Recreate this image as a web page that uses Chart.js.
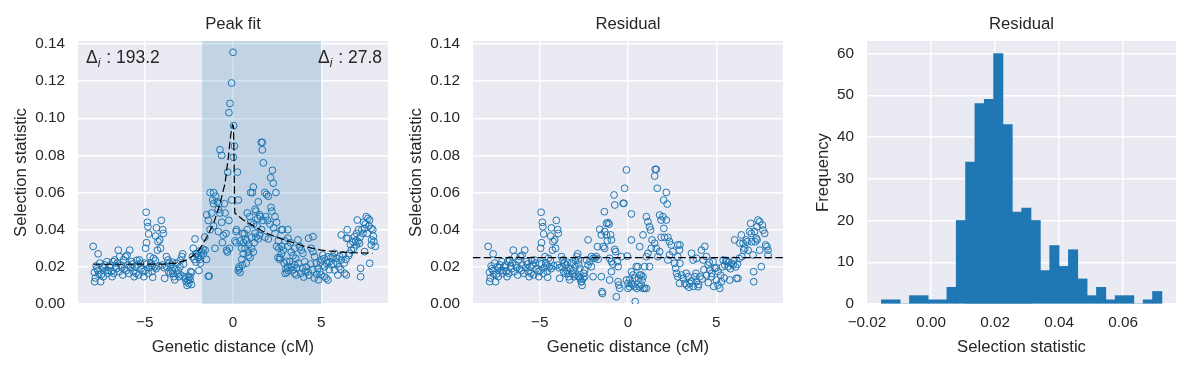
<!DOCTYPE html>
<html>
<head>
<meta charset="utf-8">
<script src="https://cdn.jsdelivr.net/npm/chart.js@4.4.1/dist/chart.umd.min.js"></script>
<style>
  html, body { margin: 0; padding: 0; background: #fff; }
  #wrap { position: relative; width: 1191px; height: 368px; }
  canvas { position: absolute; left: 0; top: 0; }
</style>
</head>
<body>
<div id="wrap">
  <canvas id="peak" width="1191" height="368"></canvas>
  <canvas id="resid" width="1191" height="368"></canvas>
  <canvas id="hist" width="1191" height="368"></canvas>
</div>
<script>
// ---- data ----
// points left of the peak look the same in both scatter panels
const flankPoints = [
  [-7.92,0.031],[-7.85,0.017],[-7.84,0.012],[-7.8,0.014],[-7.75,0.0205],[-7.7,0.019],[-7.65,0.018],[-7.64,0.027],
  [-7.6,0.016],[-7.55,0.022],[-7.5,0.012],[-7.45,0.016],[-7.4,0.020],[-7.35,0.0147],[-7.3,0.0195],[-7.26,0.021],
  [-7.2,0.018],[-7.15,0.0228],[-7.1,0.0165],[-7.05,0.018],[-7.0,0.020],[-6.95,0.021],[-6.9,0.0174],[-6.85,0.0147],
  [-6.8,0.0228],[-6.75,0.0165],[-6.7,0.0237],[-6.65,0.0205],[-6.6,0.019],[-6.55,0.022],[-6.5,0.029],[-6.45,0.0174],
  [-6.42,0.0255],[-6.35,0.021],[-6.3,0.0195],[-6.25,0.0156],[-6.2,0.0237],[-6.15,0.019],[-6.1,0.0255],[-6.05,0.018],
  [-6.0,0.0263],[-5.95,0.021],[-5.9,0.0165],[-5.85,0.029],[-5.8,0.0195],[-5.75,0.0228],[-5.7,0.0215],[-5.65,0.0174],
  [-5.6,0.0147],[-5.55,0.020],[-5.5,0.0165],[-5.45,0.0235],[-5.4,0.021],[-5.35,0.0156],[-5.3,0.0237],[-5.25,0.022],
  [-5.2,0.019],[-5.1,0.0174],[-5.05,0.0147],[-5.0,0.022],[-4.98,0.018],[-4.95,0.030],[-4.92,0.0494],[-4.9,0.033],
  [-4.88,0.0215],[-4.85,0.044],[-4.82,0.0416],[-4.8,0.0165],[-4.78,0.0377],[-4.75,0.0195],[-4.7,0.0255],[-4.65,0.022],
  [-4.6,0.0205],[-4.58,0.0175],[-4.55,0.0144],[-4.5,0.0246],[-4.45,0.020],[-4.4,0.0235],[-4.38,0.0366],[-4.36,0.019],
  [-4.34,0.041],[-4.28,0.029],[-4.25,0.0336],[-4.2,0.0205],[-4.15,0.0345],[-4.1,0.030],[-4.06,0.045],[-4.0,0.021],
  [-3.98,0.040],[-3.95,0.038],[-3.9,0.0195],[-3.87,0.0138],[-3.77,0.0255],[-3.75,0.020],[-3.68,0.0237],[-3.65,0.0175],
  [-3.6,0.022],[-3.55,0.0165],[-3.5,0.021],[-3.45,0.018],[-3.42,0.0225],[-3.4,0.0165],[-3.35,0.0147],[-3.3,0.013],
  [-3.25,0.019],[-3.2,0.022],[-3.15,0.0165],[-3.1,0.018],[-3.05,0.0147],[-3.0,0.020],[-2.98,0.0235],[-2.95,0.0156],
  [-2.9,0.0255],[-2.85,0.027],[-2.8,0.0215],[-2.75,0.0147],[-2.7,0.0138],[-2.65,0.012],[-2.6,0.010]
];

const peakCore = [
  [-2.55,0.0128],[-2.53,0.015],[-2.5,0.011],[-2.45,0.0146],[-2.43,0.013],[-2.4,0.0175],[-2.35,0.0105],[-2.34,0.017],
  [-2.3,0.0255],[-2.25,0.030],[-2.2,0.024],[-2.15,0.035],[-2.12,0.027],[-2.1,0.0225],[-2.06,0.027],[-2.0,0.026],
  [-1.96,0.025],[-1.93,0.018],[-1.9,0.0285],[-1.87,0.024],[-1.84,0.022],[-1.8,0.026],[-1.77,0.028],[-1.7,0.0295],
  [-1.68,0.027],[-1.6,0.036],[-1.58,0.029],[-1.5,0.024],[-1.49,0.048],[-1.4,0.045],[-1.4,0.015],[-1.35,0.015],
  [-1.3,0.060],[-1.3,0.040],[-1.21,0.049],[-1.15,0.056],[-1.1,0.060],[-1.1,0.054],[-1.1,0.042],[-1.02,0.030],
  [-0.98,0.058],[-0.89,0.055],[-0.83,0.051],[-0.83,0.039],[-0.8,0.054],[-0.74,0.083],[-0.74,0.049],[-0.64,0.080],
  [-0.64,0.044],[-0.6,0.033],[-0.55,0.037],[-0.49,0.054],[-0.45,0.049],[-0.4,0.038],[-0.36,0.029],[-0.32,0.028],
  [-0.3,0.071],[-0.23,0.103],[-0.23,0.045],[-0.2,0.030],[-0.17,0.108],[-0.08,0.119],[-0.08,0.056],[0.0,0.1355],
  [0.02,0.079],[0.04,0.096],[0.08,0.085],[0.11,0.034],[0.17,0.039],[0.17,0.033],[0.2,0.040],[0.25,0.071],
  [0.3,0.056],[0.3,0.018],[0.34,0.020],[0.36,0.019],[0.4,0.034],[0.4,0.017],[0.49,0.030],[0.5,0.024],
  [0.53,0.021],[0.55,0.038],[0.58,0.027],[0.6,0.033],[0.65,0.038],[0.68,0.030],[0.7,0.035],[0.75,0.022],
  [0.77,0.034],[0.8,0.040],[0.81,0.049],[0.87,0.028],[0.87,0.026],[0.9,0.032],[0.95,0.047],[0.96,0.025],
  [1.0,0.060],[1.0,0.044],[1.05,0.030],[1.06,0.036],[1.1,0.060],[1.15,0.063],[1.15,0.028],[1.17,0.043],
  [1.2,0.033],[1.25,0.051],[1.25,0.038],[1.3,0.050],[1.3,0.036],[1.36,0.042],[1.4,0.046],[1.43,0.055],
  [1.43,0.035],[1.5,0.048],[1.5,0.037],[1.55,0.047],[1.6,0.087],[1.62,0.040],[1.66,0.087],[1.66,0.083],
  [1.7,0.045],[1.72,0.076],[1.8,0.060],[1.81,0.036],[1.85,0.047],[1.9,0.059],[1.96,0.045],[2.0,0.058],
  [2.0,0.035],[2.09,0.043],[2.13,0.068],[2.15,0.052],[2.2,0.050],[2.23,0.072],[2.28,0.065],[2.3,0.041],
  [2.38,0.047],[2.38,0.038],[2.43,0.060],[2.47,0.044],[2.47,0.031],[2.55,0.025],[2.57,0.034],[2.6,0.030],
  [2.65,0.024],[2.66,0.025],[2.75,0.031],[2.75,0.027],[2.75,0.040],[2.8,0.040],[2.85,0.029],[2.9,0.022],
  [2.94,0.034],[2.95,0.0165],[3.0,0.019],[3.04,0.023],[3.05,0.017],[3.09,0.020],[3.11,0.040],[3.11,0.0354],
  [3.11,0.031],[3.13,0.018],[3.21,0.0228],[3.25,0.033],[3.3,0.020],[3.3,0.028],[3.4,0.0183],[3.4,0.026],
  [3.49,0.0165],[3.49,0.021],[3.5,0.030],[3.55,0.0245],[3.58,0.0156],[3.6,0.0195],[3.68,0.0345],[3.7,0.022],
  [3.77,0.031],[3.85,0.0165],[3.87,0.029],[3.95,0.019],[3.96,0.0273],[4.0,0.0145],[4.06,0.0228],[4.1,0.0175],
  [4.15,0.020],[4.25,0.0174],[4.28,0.0354],[4.3,0.0155],[4.4,0.0215],[4.43,0.030],[4.5,0.0185],[4.53,0.0363],
  [4.53,0.0282],[4.6,0.014],[4.62,0.0255],[4.72,0.0219],[4.75,0.016],[4.81,0.0192],[4.85,0.013],[4.91,0.0174],
  [4.95,0.0225],[5.0,0.0237],[5.0,0.0156],[5.09,0.021],[5.09,0.0264],[5.15,0.0245],[5.19,0.0147],[5.19,0.020],
  [5.28,0.0138],[5.3,0.022],[5.38,0.0129],[5.38,0.0255],[5.45,0.0185],[5.47,0.0228],[5.55,0.025],[5.57,0.021],
  [5.66,0.0255],[5.7,0.0215],[5.75,0.0273],[5.75,0.0183],[5.85,0.0246],[5.9,0.022],[5.94,0.0156],[6.0,0.020],
  [6.04,0.0255],[6.1,0.0185],[6.13,0.0237],[6.13,0.0372],[6.23,0.0264],[6.3,0.022],[6.32,0.0165],[6.4,0.024],
  [6.42,0.0156],[6.42,0.0354],[6.47,0.040],[6.51,0.0354],[6.55,0.026],[6.6,0.0273],[6.65,0.032],[6.7,0.029],
  [6.79,0.0336],[6.85,0.030],[6.89,0.0363],[6.95,0.034],[6.98,0.0318],[7.0,0.038],[7.04,0.0452],[7.08,0.0336],
  [7.11,0.040],[7.17,0.0327],[7.2,0.036],[7.23,0.0192],[7.23,0.0147],[7.3,0.040],[7.36,0.038],[7.4,0.044],
  [7.45,0.0407],[7.45,0.0282],[7.5,0.043],[7.55,0.047],[7.6,0.038],[7.64,0.0461],[7.7,0.042],[7.74,0.0452],
  [7.74,0.0219],[7.83,0.0407],[7.83,0.0318],[7.85,0.0345],[7.92,0.040],[7.95,0.0365],[7.98,0.0336],[8.06,0.031]
];

const residCore = [
  [-2.82,0.0237],[-2.73,0.0192],[-2.8,0.0147],[-2.63,0.012],[-2.54,0.0138],[-2.45,0.0147],[-2.5,0.0165],[-2.45,0.0183],
  [-2.35,0.0237],[-2.26,0.021],[-2.26,0.0345],[-2.16,0.0228],[-2.07,0.0201],[-2.07,0.0255],[-1.98,0.0246],[-1.98,0.0147],
  [-1.88,0.0246],[-1.79,0.0255],[-1.73,0.0309],[-1.69,0.0241],[-1.6,0.0402],[-1.51,0.0372],[-1.51,0.0147],[-1.47,0.0066],
  [-1.45,0.0057],[-1.41,0.0309],[-1.34,0.0497],[-1.32,0.030],[-1.32,0.039],[-1.22,0.0372],[-1.22,0.0434],[-1.17,0.0341],
  [-1.13,0.0438],[-1.07,0.043],[-1.04,0.0246],[-1.04,0.0129],[-0.98,0.0372],[-0.94,0.0345],[-0.94,0.0228],[-0.94,0.0174],
  [-0.85,0.0215],[-0.79,0.0587],[-0.75,0.0533],[-0.75,0.0294],[-0.7,0.0282],[-0.66,0.0039],[-0.6,0.0228],[-0.56,0.0201],
  [-0.56,0.012],[-0.52,0.0102],[-0.47,0.0084],[-0.38,0.0255],[-0.28,0.0542],[-0.23,0.0542],[-0.19,0.0623],[-0.09,0.0722],
  [-0.09,0.0129],[-0.04,0.0258],[0.0,0.0111],[0.0,0.0084],[0.1,0.0133],[0.1,0.0093],[0.19,0.0485],[0.19,0.0345],
  [0.19,0.0174],[0.2,0.0111],[0.28,0.0156],[0.28,0.0102],[0.38,0.0138],[0.38,0.0093],[0.41,0.0013],[0.47,0.0201],
  [0.5,0.0084],[0.56,0.0201],[0.6,0.0138],[0.66,0.0156],[0.66,0.0309],[0.66,0.0093],[0.75,0.0102],[0.75,0.0156],
  [0.8,0.0129],[0.85,0.0372],[0.85,0.0147],[0.85,0.0084],[0.94,0.0201],[0.94,0.0084],[1.04,0.0255],[1.04,0.047],
  [1.04,0.0084],[1.13,0.0273],[1.13,0.0443],[1.22,0.0416],[1.22,0.0201],[1.28,0.0398],[1.32,0.030],[1.36,0.0345],
  [1.51,0.0327],[1.51,0.0689],[1.54,0.0725],[1.6,0.0725],[1.6,0.030],[1.66,0.0623],[1.69,0.0255],[1.79,0.0282],
  [1.79,0.0479],[1.88,0.0452],[1.88,0.0359],[1.98,0.047],[2.02,0.056],[2.03,0.0407],[2.07,0.0359],[2.17,0.0601],
  [2.17,0.0452],[2.22,0.0538],[2.26,0.0359],[2.26,0.0237],[2.35,0.0336],[2.35,0.0264],[2.45,0.0318],[2.54,0.0282],
  [2.64,0.0219],[2.7,0.0192],[2.75,0.0165],[2.82,0.0318],[2.82,0.0255],[2.82,0.0147],[2.92,0.0291],[2.92,0.0111],
  [2.94,0.0318],[2.94,0.0219],[3.03,0.0156],[3.13,0.0138],[3.22,0.0111],[3.3,0.0165],[3.31,0.0102],[3.41,0.0147],
  [3.45,0.009],[3.5,0.0111],[3.6,0.0273],[3.6,0.0125],[3.69,0.0237],[3.7,0.0095],[3.79,0.0147],[3.85,0.0165],
  [3.88,0.012],[3.88,0.0246],[3.97,0.0093],[4.0,0.0105],[4.07,0.0147],[4.16,0.029],[4.2,0.0135],[4.26,0.0237],
  [4.3,0.0185],[4.35,0.031],[4.44,0.0255],[4.45,0.0155],[4.54,0.021],[4.55,0.0115],[4.6,0.0225],[4.63,0.0183],
  [4.73,0.0147],[4.75,0.0165],[4.82,0.0228],[4.85,0.0095],[4.92,0.0192],[5.0,0.0195],[5.01,0.0129],[5.1,0.0102],
  [5.1,0.0175],[5.2,0.0084],[5.25,0.0155],[5.29,0.012],[5.35,0.020],[5.39,0.0237],[5.45,0.014],[5.48,0.021],
  [5.55,0.0235],[5.58,0.0228],[5.67,0.0201],[5.7,0.0225],[5.76,0.0129],[5.8,0.019],[5.86,0.0219],[5.95,0.021],
  [6.0,0.0235],[6.04,0.0345],[6.1,0.020],[6.14,0.0138],[6.2,0.0215],[6.23,0.0138],[6.3,0.0245],[6.33,0.0327],
  [6.42,0.0372],[6.45,0.0255],[6.52,0.0327],[6.55,0.029],[6.61,0.030],[6.7,0.0345],[6.75,0.0335],[6.8,0.029],
  [6.89,0.039],[6.95,0.0434],[6.99,0.038],[7.0,0.0335],[7.08,0.0264],[7.12,0.0174],[7.12,0.012],[7.17,0.039],
  [7.2,0.0335],[7.27,0.0354],[7.31,0.0416],[7.31,0.0345],[7.36,0.0452],[7.46,0.0443],[7.46,0.029],[7.55,0.0201],
  [7.61,0.0425],[7.65,0.0398],[7.74,0.038],[7.8,0.0318],[7.87,0.0309],[7.93,0.029],[7.93,0.0264]
];

// dashed fitted curve in the first panel
const fitX = [-7.9,-6.0,-4.0,-3.2,-2.6,-2.2,-1.85,-1.5,-1.1,-0.75,-0.45,-0.26,-0.13,-0.03,0.03,0.07,0.1,0.58,1.25,1.81,2.38,2.94,4.06,5.0,5.94,6.89,7.9];
const fitY = [0.0214,0.0214,0.0215,0.022,0.0238,0.0265,0.030,0.0358,0.0434,0.0535,0.065,0.0795,0.091,0.0965,0.0955,0.070,0.049,0.0452,0.0416,0.0384,0.0363,0.0345,0.031,0.029,0.028,0.0276,0.0273];

const residLevel = 0.025;
const spanFrom = -1.75, spanTo = 5.0;
const deltaLeft = '193.2', deltaRight = '27.8';

// histogram of the residuals, 30 bins
const histFrom = -0.0155, histTo = 0.0721;
const histCounts = [1,1,0,2,2,1,1,4,20,34,48,49,60,43,22,23,20,8,14,9,13,6,2,4,1,2,2,0,1,3];

const distTicks = [-5, 0, 5];
const statTicks = [0, 0.02, 0.04, 0.06, 0.08, 0.10, 0.12, 0.14];
const histXTicks = [-0.02, 0, 0.02, 0.04, 0.06];
const freqTicks = [0, 10, 20, 30, 40, 50, 60];

// ---- look ----
const FONT = '"Liberation Sans", Arial, sans-serif';
const INK = '#262626';
const BLUE = '#1f77b4';
const W = 1191, H = 368;
const TOP = 41, BOTTOM = 304;

const fmtMinus = s => s.replace('-', '\u2212');

// the scale box itself takes all the room left of / below the plot,
// so tick labels are not clipped away
function axis(min, max, ticks, fmt, vertical, boxSize, gridColor) {
  return {
    type: 'linear', min: min, max: max, offset: false,
    afterBuildTicks: s => { s.ticks = ticks.map(v => ({ value: v })); },
    afterFit: s => { if (vertical) s.width = boxSize; else s.height = boxSize; },
    grid: { color: gridColor || '#ffffff', lineWidth: 1.4, drawTicks: false, offset: false },
    border: { display: false },
    ticks: {
      color: INK, font: { family: FONT, size: 15.3 },
      padding: vertical ? 13 : 9.5, maxRotation: 0, autoSkip: false,
      callback: v => fmt(v)
    }
  };
}

const bgPlugin = {
  id: 'bg',
  beforeDraw(chart) {
    const { ctx, chartArea: a } = chart;
    ctx.save();
    ctx.fillStyle = '#EAEAF2';
    ctx.fillRect(a.left, a.top, a.right - a.left, a.bottom - a.top);
    ctx.restore();
  }
};

function textPlugin(title, xLabel, yLabel, yLabelX) {
  return {
    id: 'texts',
    afterDraw(chart) {
      const { ctx, chartArea: a } = chart;
      const cx = (a.left + a.right) / 2;
      ctx.save();
      ctx.fillStyle = INK;
      ctx.font = '16.7px ' + FONT;
      ctx.textAlign = 'center';
      ctx.textBaseline = 'alphabetic';
      ctx.fillText(title, cx, a.top - 12.5);
      ctx.fillText(xLabel, cx, 352);
      ctx.translate(yLabelX, (a.top + a.bottom) / 2);
      ctx.rotate(-Math.PI / 2);
      ctx.fillText(yLabel, 0, 0);
      ctx.restore();
    }
  };
}

// blue band plus the two delta notes
const spanPlugin = {
  id: 'span',
  beforeDatasetsDraw(chart) {
    const { ctx, chartArea: a, scales } = chart;
    const x0 = scales.x.getPixelForValue(spanFrom);
    const x1 = scales.x.getPixelForValue(spanTo);
    ctx.save();
    ctx.fillStyle = 'rgba(31,119,180,0.2)';
    ctx.fillRect(x0, a.top, x1 - x0, a.bottom - a.top);
    ctx.restore();
  },
  afterDraw(chart) {
    const { ctx, chartArea: a } = chart;
    const big = '17.5px ' + FONT, small = 'italic 12px ' + FONT;
    function note(val, x, alignRight) {
      ctx.font = big;
      const wD = ctx.measureText('\u0394').width;
      const wR = ctx.measureText(' : ' + val).width;
      ctx.font = small;
      const wI = ctx.measureText('i').width + 1;
      let left = alignRight ? x - (wD + wI + wR) : x;
      ctx.font = big;
      ctx.fillText('\u0394', left, 63);
      ctx.font = small;
      ctx.fillText('i', left + wD, 67);
      ctx.font = big;
      ctx.fillText(' : ' + val, left + wD + wI, 63);
    }
    ctx.save();
    ctx.fillStyle = INK;
    ctx.textAlign = 'left';
    ctx.textBaseline = 'alphabetic';
    note(deltaLeft, a.left + 8, false);
    note(deltaRight, a.right - 6, true);
    ctx.restore();
  }
};

const toXY = p => ({ x: p[0], y: p[1] });
const X_LIM = [-8.78, 8.78];
const Y_LIM = [0, 0.1416];

function scatterSet(points) {
  return {
    type: 'scatter', data: points.map(toXY), showLine: false,
    pointRadius: 3.4, pointBorderWidth: 1, pointBorderColor: BLUE,
    pointBackgroundColor: 'rgba(0,0,0,0)', borderColor: BLUE, backgroundColor: 'rgba(0,0,0,0)'
  };
}

function dashedSet(xs, ys) {
  return {
    type: 'line', data: xs.map((x, i) => ({ x: x, y: ys[i] })), showLine: true,
    borderColor: '#000000', borderWidth: 1.2, borderDash: [7.5, 3.3],
    pointRadius: 0, fill: false, tension: 0
  };
}

function panelOptions(left, right, xAxis, yAxis) {
  return {
    responsive: false, animation: false, events: [],
    layout: { padding: { left: 0, right: W - right, top: TOP, bottom: 0 } },
    plugins: { legend: { display: false }, title: { display: false }, tooltip: { enabled: false } },
    scales: { x: xAxis, y: yAxis }
  };
}

const fmtDist = v => fmtMinus(String(v));
const fmtStat = v => v.toFixed(2);
const XBOX = H - BOTTOM;

// panel 1: peak fit
new Chart(document.getElementById('peak'), {
  type: 'scatter',
  data: {
    datasets: [
      dashedSet(fitX, fitY),
      scatterSet(flankPoints.concat(peakCore))
    ]
  },
  options: panelOptions(78, 388,
    axis(X_LIM[0], X_LIM[1], distTicks, fmtDist, false, XBOX),
    axis(Y_LIM[0], Y_LIM[1], statTicks, fmtStat, true, 78)),
  plugins: [bgPlugin, spanPlugin, textPlugin('Peak fit', 'Genetic distance (cM)', 'Selection statistic', 26)]
});

// panel 2: residual scatter
new Chart(document.getElementById('resid'), {
  type: 'scatter',
  data: {
    datasets: [
      dashedSet(X_LIM, [residLevel, residLevel]),
      scatterSet(flankPoints.concat(residCore))
    ]
  },
  options: panelOptions(473, 783,
    axis(X_LIM[0], X_LIM[1], distTicks, fmtDist, false, XBOX),
    axis(Y_LIM[0], Y_LIM[1], statTicks, fmtStat, true, 473)),
  plugins: [bgPlugin, textPlugin('Residual', 'Genetic distance (cM)', 'Selection statistic', 421)]
});

// panel 3: histogram of residuals
const binWidth = (histTo - histFrom) / histCounts.length;
new Chart(document.getElementById('hist'), {
  type: 'bar',
  data: {
    datasets: [{
      data: histCounts.map((c, i) => ({ x: histFrom + (i + 0.5) * binWidth, y: c })),
      backgroundColor: BLUE, borderWidth: 0,
      barPercentage: 1, categoryPercentage: 1
    }]
  },
  options: panelOptions(867, 1176,
    axis(-0.02, 0.0765, histXTicks, v => fmtMinus(v.toFixed(2)), false, XBOX,
      c => (c.tick && c.tick.value === -0.02) ? 'rgba(0,0,0,0)' : '#ffffff'),
    axis(0, 63, freqTicks, v => String(v), true, 867)),
  plugins: [bgPlugin, textPlugin('Residual', 'Selection statistic', 'Frequency', 828)]
});
</script>
</body>
</html>
